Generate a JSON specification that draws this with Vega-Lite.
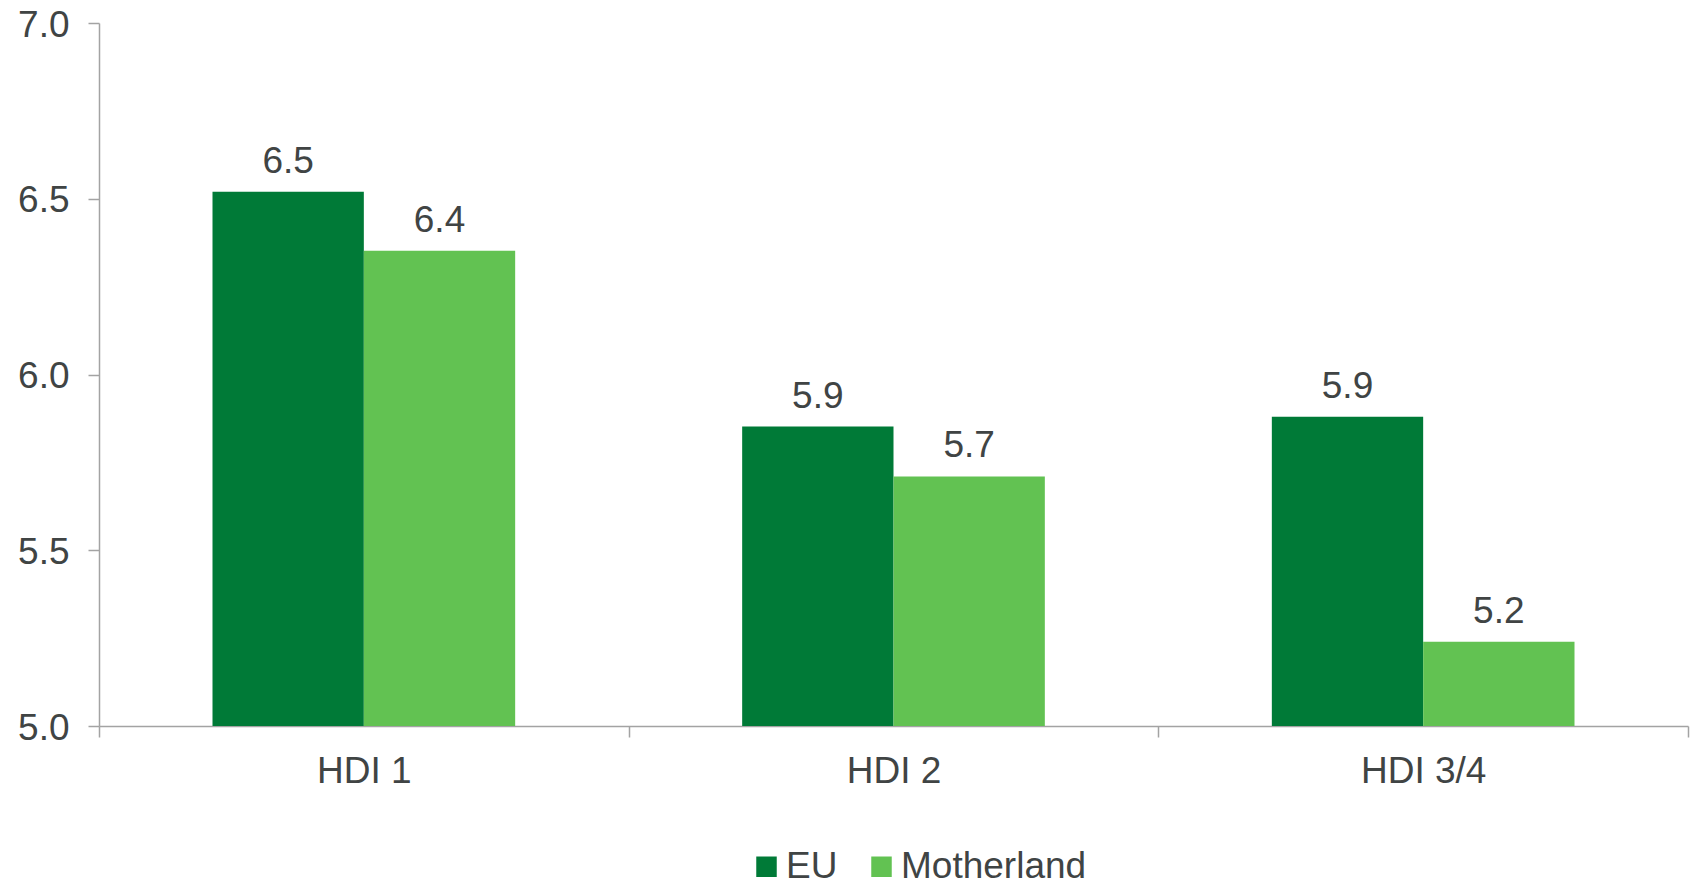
{
  "$schema": "https://vega.github.io/schema/vega-lite/v6.json",
  "width": 1589,
  "height": 703,
  "autosize": {"type": "none"},
  "padding": {"left": 99, "top": 23, "right": 8, "bottom": 156},
  "background": "white",
  "config": {
    "font": "Liberation Sans",
    "view": {"stroke": null},
    "axis": {
      "domainColor": "#a3a3a3",
      "tickColor": "#a3a3a3",
      "domainWidth": 1.5,
      "tickWidth": 1.5,
      "tickSize": 11,
      "labelFontSize": 37,
      "labelColor": "#404444",
      "labelFont": "Liberation Sans",
      "grid": false,
      "title": null
    }
  },
  "data": {
    "values": [
      {"group": "HDI 1", "series": "EU", "value": 6.52},
      {"group": "HDI 1", "series": "Motherland", "value": 6.352},
      {"group": "HDI 2", "series": "EU", "value": 5.852},
      {"group": "HDI 2", "series": "Motherland", "value": 5.71},
      {"group": "HDI 3/4", "series": "EU", "value": 5.88},
      {"group": "HDI 3/4", "series": "Motherland", "value": 5.24}
    ]
  },
  "encoding": {
    "x": {
      "field": "group",
      "type": "nominal",
      "sort": ["HDI 1", "HDI 2", "HDI 3/4"],
      "scale": {"paddingInner": 0, "paddingOuter": 0},
      "axis": {"labelAngle": 0, "tickBand": "extent", "labelPadding": 16}
    },
    "xOffset": {
      "field": "series",
      "type": "nominal",
      "sort": ["EU", "Motherland"],
      "scale": {"paddingInner": 0, "paddingOuter": 0.75}
    },
    "y": {
      "field": "value",
      "type": "quantitative",
      "scale": {"domain": [5, 7], "zero": false, "nice": false},
      "axis": {"values": [5, 5.5, 6, 6.5, 7], "format": ".1f", "labelPadding": 19, "labelOffset": 2}
    }
  },
  "layer": [
    {
      "mark": {"type": "bar", "clip": true},
      "encoding": {
        "y2": {"datum": 5},
        "color": {
          "field": "series",
          "type": "nominal",
          "sort": ["EU", "Motherland"],
          "scale": {"domain": ["EU", "Motherland"], "range": ["#007A37", "#62C252"]},
          "legend": {
            "orient": "none",
            "legendX": 649,
            "legendY": 825,
            "direction": "horizontal",
            "title": null,
            "symbolType": "square",
            "symbolSize": 420,
            "symbolStrokeWidth": 0,
            "labelFontSize": 37,
            "labelColor": "#404444",
            "labelFont": "Liberation Sans",
            "labelLimit": 0,
            "labelOffset": 1,
            "columnPadding": 25,
            "padding": 0
          }
        }
      }
    },
    {
      "mark": {"type": "text", "baseline": "alphabetic", "dy": -19, "fontSize": 37, "color": "#404444"},
      "encoding": {
        "text": {"field": "value", "type": "quantitative", "format": ".1f"}
      }
    }
  ]
}
